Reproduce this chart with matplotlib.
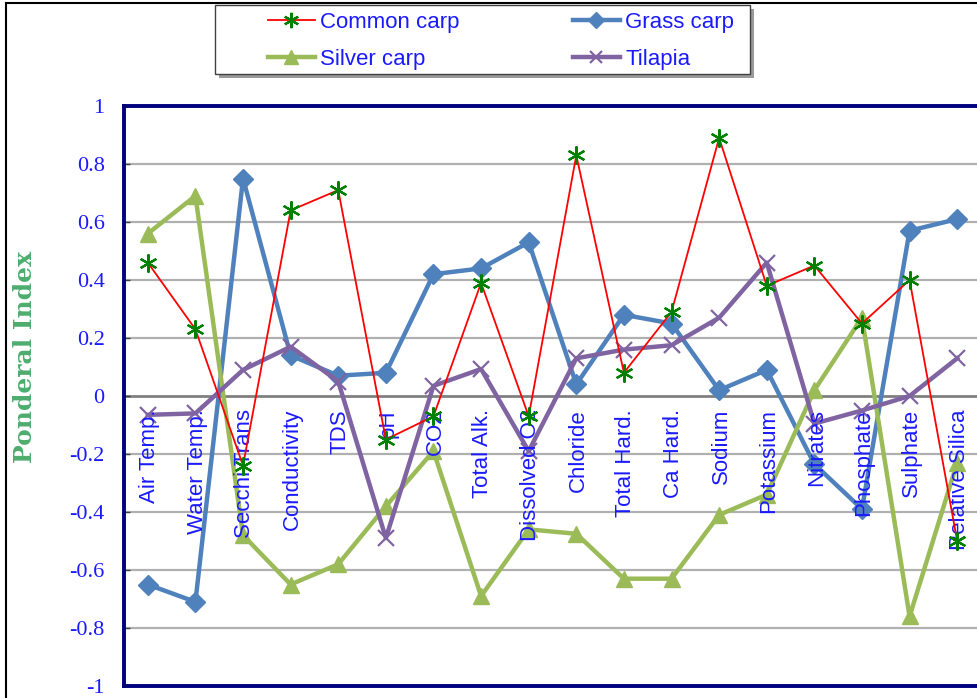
import matplotlib
matplotlib.use('Agg')
import matplotlib.pyplot as plt
from matplotlib.lines import Line2D
from matplotlib.patches import Rectangle
import numpy as np

# 항목 이름 (x축, 그래프 안에 세로로 표시)
categories = ['Air Temp.', 'Water Temp.', 'Secchi Trans', 'Conductivity', 'TDS', 'pH',
              'CO2', 'Total Alk.', 'Dissolved O2', 'Chloride', 'Total Hard.', 'Ca Hard.',
              'Sodium', 'Potassium', 'Nitrates', 'Phosphate', 'Sulphate', 'Relative Silica']

common_carp = [0.46, 0.23, -0.24, 0.64, 0.71, -0.15, -0.07, 0.39, -0.07, 0.83,
               0.08, 0.29, 0.89, 0.38, 0.45, 0.25, 0.40, -0.50]
grass_carp = [-0.65, -0.71, 0.75, 0.14, 0.07, 0.08, 0.42, 0.44, 0.53, 0.04,
              0.28, 0.25, 0.02, 0.09, -0.235, -0.39, 0.57, 0.61]
silver_carp = [0.56, 0.69, -0.48, -0.65, -0.58, -0.38, -0.19, -0.69, -0.46, -0.475,
               -0.63, -0.63, -0.41, -0.34, 0.02, 0.27, -0.76, -0.23]
tilapia = [-0.065, -0.06, 0.09, 0.17, 0.05, -0.49, 0.035, 0.093, -0.19, 0.13,
           0.16, 0.175, 0.27, 0.46, -0.095, -0.05, 0.0, 0.13]

yticks = [1, 0.8, 0.6, 0.4, 0.2, 0, -0.2, -0.4, -0.6, -0.8, -1]
ytick_labels = ['1', '0.8', '0.6', '0.4', '0.2', '0', '-0.2', '-0.4', '-0.6', '-0.8', '-1']

navy = '#000080'
blue_txt = '#1a1aff'
x = np.arange(len(categories))

fig = plt.figure(figsize=(9.78, 6.98), dpi=100)
ax = fig.add_axes([124 / 978, 12 / 698, 857 / 978, 580 / 698])

# --- 격자선 ---
for v in yticks:
    if v == 0:
        ax.axhline(v, color='#808080', lw=2.0, zorder=1)
    elif abs(v) < 1:
        ax.axhline(v, color='#b0b0b0', lw=1.6, zorder=1)

# --- 항목 라벨 (굵은 선 위, Common carp 표식 아래) ---
for i, name in enumerate(categories):
    ax.text(x[i] + 0.04, -0.045, name, rotation=90, ha='center', va='top',
            color=blue_txt, fontsize=16, family='Liberation Sans', zorder=3.5)

# --- 데이터 선 ---
ax.plot(x, grass_carp, color='#4f81bd', lw=3.2, marker='D', ms=10,
        label='Grass carp', zorder=3)
ax.plot(x, silver_carp, color='#9bbb59', lw=3.2, marker='^', ms=12,
        label='Silver carp', zorder=3)
ax.plot(x, tilapia, color='#8064a2', lw=3.2, marker='x', ms=11, mew=1.6,
        label='Tilapia', zorder=3)
ax.plot(x, common_carp, color='#ff0000', lw=1.3, marker=(6, 2, 0), ms=13,
        mec='#008000', mfc='#008000', mew=1.6, label='Common carp', zorder=4)

ax.set_xlim(-0.5, 17.5)
ax.set_ylim(-1, 1)
ax.set_xticks([])
ax.set_yticks(yticks)
ax.set_yticklabels(ytick_labels, family='Liberation Serif', fontsize=16, color=blue_txt)
ax.tick_params(axis='y', direction='in', length=4, width=1, color='#404040', pad=14)

for side in ['left', 'bottom', 'top']:
    ax.spines[side].set_color(navy)
    ax.spines[side].set_linewidth(2.8)
ax.spines['right'].set_visible(False)

fig.text(25 / 978, 1 - 357 / 698, 'Ponderal Index', rotation=90, ha='center', va='center',
         family='DejaVu Serif', fontsize=18, fontweight='bold', color='#4cad6e')

# --- 범례 (틀은 따로 그림) ---
fig.add_artist(Rectangle((219 / 978, 1 - 78 / 698), 535 / 978, 69 / 698,
                         transform=fig.transFigure, facecolor='#9a9a9a', edgecolor='none'))
fig.add_artist(Rectangle((215 / 978, 1 - 74 / 698), 535 / 978, 69 / 698,
                         transform=fig.transFigure, facecolor='white', edgecolor='#404040', lw=1.0))

h, l = ax.get_legend_handles_labels()
order = [3, 1, 0, 2]
leg = fig.legend([h[k] for k in order], [l[k] for k in order], ncol=2,
                 loc='upper left', bbox_to_anchor=(268 / 978, 1 - 12 / 698),
                 frameon=False, borderpad=0, borderaxespad=0,
                 prop={'family': 'Liberation Sans', 'size': 16},
                 handlelength=2.1, handletextpad=0.25, columnspacing=5.1,
                 labelspacing=0.72, markerscale=0.85)
for t in leg.get_texts():
    t.set_color(blue_txt)

# 바깥 테두리
fig.add_artist(Line2D([6 / 978, 6 / 978], [0, 1 - 3 / 698], color='black', lw=1.5))
fig.add_artist(Line2D([6 / 978, 1], [1 - 3 / 698, 1 - 3 / 698], color='black', lw=1.5))

plt.savefig('out.png', dpi=100)
plt.close()
